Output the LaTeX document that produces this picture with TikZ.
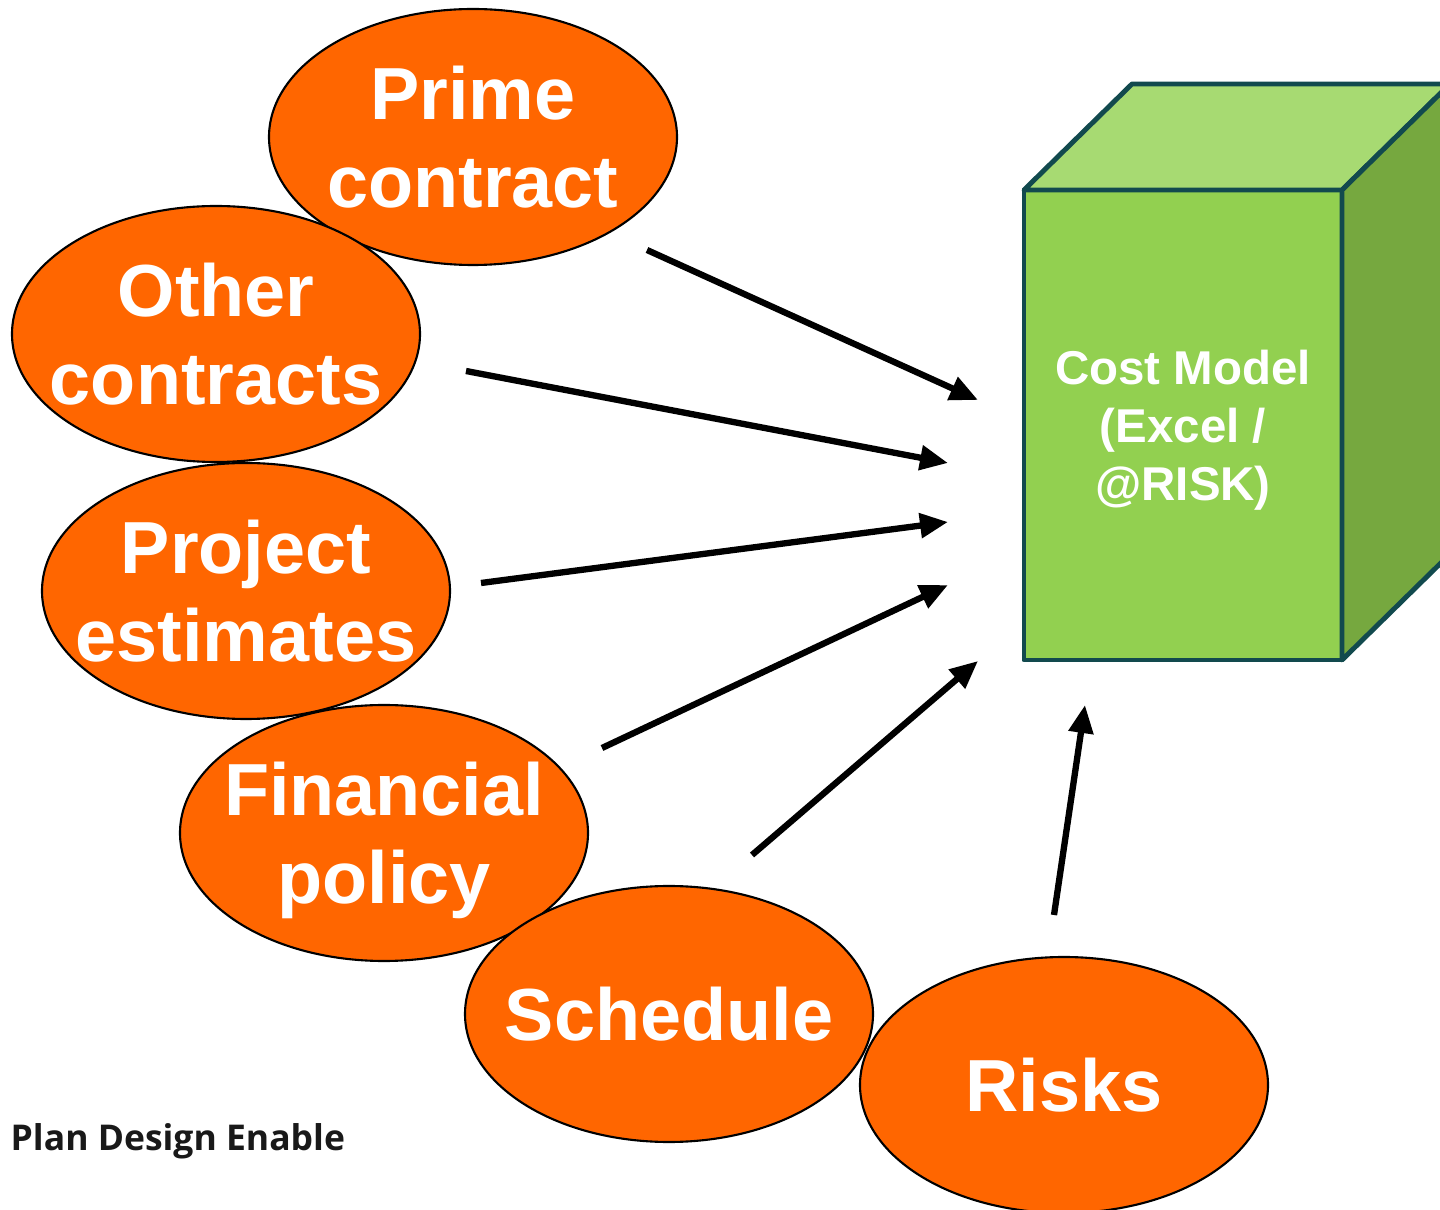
\documentclass[tikz,border=0pt]{standalone}
\usepackage{fontspec}
\setmainfont{Liberation Sans}
\newfontfamily\tagfont{Open Sans}
\usetikzlibrary{shapes}
\usetikzlibrary{arrows.meta}

\definecolor{bubble}{HTML}{FF6600}
\definecolor{cubefront}{HTML}{92D050}
\definecolor{cubetop}{HTML}{A7DA72}
\definecolor{cubeside}{HTML}{76A83F}
\definecolor{cubeedge}{HTML}{124A4E}

\begin{document}
\begin{tikzpicture}
					\tikzstyle{source}=[ellipse,draw=black,line width=0.6pt,fill=bubble,minimum width=4.08cm,minimum height=2.56cm,inner sep=-1.5cm,text depth=0pt,align=center,text=white,font=\bfseries\fontsize{21}{25}\selectfont]
					\tikzstyle{face}=[draw=cubeedge,line width=1.4pt,line join=round]
					\tikzstyle{feed}=[-{Triangle[length=0.28cm,width=0.24cm]},line width=1.8pt]
					\useasboundingbox (0,0) rectangle (14.4,12.09);
					
					\node[source] (prime) at (4.73,10.72) {Prime\\contract};
					\node[source] (other) at (2.16,8.75) {Other\\contracts};
					\node[source] (estimates) at (2.46,6.18) {Project\\estimates};
					\node[source] (policy) at (3.84,3.76) {Financial\\policy};
					\node[source] (schedule) at (6.69,1.95) {Schedule};
					\node[source] (risks) at (10.64,1.24) {Risks};
					
					\node[rectangle,face,fill=cubefront,outer sep=0pt,minimum width=3.18cm,minimum height=4.70cm,text depth=0pt,align=center,text=white,font=\bfseries\fontsize{13.5}{16.5}\selectfont] (model) at (11.83,7.84) {Cost Model\\(Excel /\\@RISK)};
					\draw[face,fill=cubetop] (model.north west) -- ++(1.08,1.06) -- ++(3.18,0) -- (model.north east) -- cycle;
					\draw[face,fill=cubeside] (model.north east) -- ++(1.08,1.06) -- ++(0,-4.70) -- (model.south east) -- cycle;
					
					\coordinate (prime-out) at (6.47,9.59);
					\coordinate (other-out) at (4.66,8.38);
					\coordinate (estimates-out) at (4.81,6.26);
					\coordinate (policy-out) at (6.02,4.61);
					\coordinate (schedule-out) at (7.52,3.54);
					\coordinate (risks-out) at (10.54,2.94);
					\coordinate (model-in1) at (9.78,8.09);
					\coordinate (model-in2) at (9.48,7.46);
					\coordinate (model-in3) at (9.48,6.87);
					\coordinate (model-in4) at (9.48,6.24);
					\coordinate (model-in5) at (9.78,5.48);
					\coordinate (model-in6) at (10.85,5.04);
					
					\draw[feed] (prime-out) -- (model-in1);
					\draw[feed] (other-out) -- (model-in2);
					\draw[feed] (estimates-out) -- (model-in3);
					\draw[feed] (policy-out) -- (model-in4);
					\draw[feed] (schedule-out) -- (model-in5);
					\draw[feed] (risks-out) -- (model-in6);
					
					\node[anchor=west,inner sep=0pt,text=black!90,font=\tagfont\bfseries\fontsize{10.1}{12}\selectfont] (tagline) at (0.1,0.68) {Plan Design Enable};
\end{tikzpicture}
\end{document}
